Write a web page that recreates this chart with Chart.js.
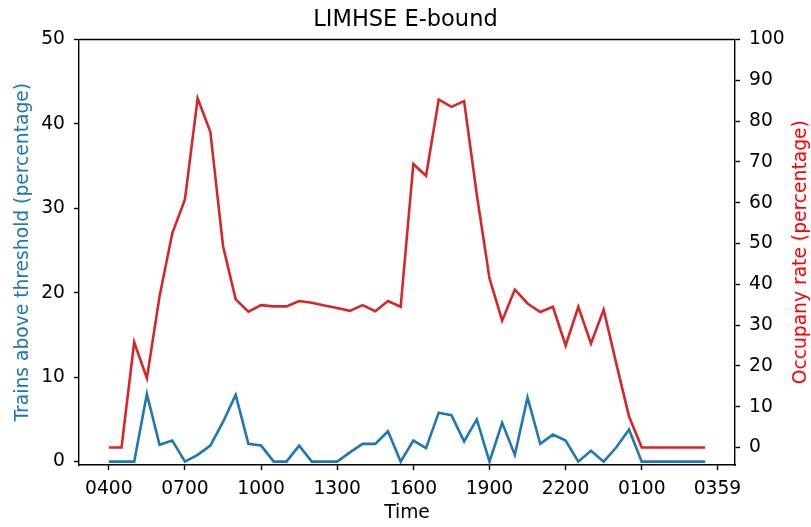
<!DOCTYPE html>
<html>
<head>
<meta charset="utf-8">
<script src="https://cdn.jsdelivr.net/npm/chart.js@4.4.1/dist/chart.umd.min.js"></script>
<style>
  html, body { margin: 0; padding: 0; background: #fff; }
  #wrap { width: 811px; height: 527px; position: relative; }
</style>
</head>
<body>
<div id="wrap"><canvas id="occChart"></canvas></div>
<script>
// half-hour slots, day starts at 0400
var times = ['0400','0430','0500','0530','0600','0630','0700','0730','0800','0830',
             '0900','0930','1000','1030','1100','1130','1200','1230','1300','1330',
             '1400','1430','1500','1530','1600','1630','1700','1730','1800','1830',
             '1900','1930','2000','2030','2100','2130','2200','2230','2300','2330',
             '0000','0030','0100','0130','0200','0230','0300','0330'];

// trains above threshold (%)
var aboveThreshold = [0, 0, 0, 8.0, 2.0, 2.5, 0, 0.8, 1.9, 4.7,
                      7.9, 2.1, 1.9, 0, 0, 1.9, 0, 0, 0, 1.1,
                      2.1, 2.1, 3.6, 0, 2.5, 1.6, 5.8, 5.5, 2.4, 5.0,
                      0, 4.6, 0.8, 7.6, 2.1, 3.2, 2.5, 0, 1.3, 0,
                      1.7, 3.8, 0, 0, 0, 0, 0, 0];

// occupancy rate (%)
var occupancy = [0, 0, 25.8, 17.0, 37.1, 52.5, 60.8, 85.6, 77.4, 49.4,
                 36.3, 33.3, 34.9, 34.6, 34.6, 35.9, 35.5, 34.8, 34.2, 33.5,
                 34.9, 33.4, 35.9, 34.5, 69.5, 66.6, 85.3, 83.5, 84.9, 62.0,
                 41.5, 31.1, 38.7, 35.3, 33.2, 34.5, 25.0, 34.5, 25.5, 33.8,
                 20.5, 7.6, 0, 0, 0, 0, 0, 0];

var xTickLabels = ['0400','0700','1000','1300','1600','1900','2200','0100','0359'];
var leftTicks = [0, 10, 20, 30, 40, 50];
var rightTicks = [0, 10, 20, 30, 40, 50, 60, 70, 80, 90, 100];

// position of an hhmm label in half-hour slots after 0400
function slot(label) {
  var h = parseInt(label.slice(0, 2), 10);
  var m = parseInt(label.slice(2), 10);
  return (((h - 4 + 24) % 24) * 60 + m) / 30;
}

function toPoints(values) {
  return values.map(function (v, i) { return { x: slot(times[i]), y: v }; });
}

var FONT = 'DejaVu Sans';
Chart.defaults.font.family = FONT;
Chart.defaults.font.size = 18.7;
Chart.defaults.color = '#000';

var lastSlot = slot(times[times.length - 1]);
var xMargin = lastSlot * 0.05;

function fixedTicks(list) {
  return function (scale) {
    scale.ticks = list.map(function (v) { return { value: v }; });
  };
}

var axisStyle = {
  border: { display: true, color: '#000', width: 1.4 },
  grid: { drawOnChartArea: false, drawTicks: true, tickLength: 5, tickColor: '#000', tickWidth: 1.4 }
};

// top spine + right-hand title (reads bottom to top)
var frame = {
  id: 'frame',
  afterDraw: function (chart) {
    var a = chart.chartArea, ctx = chart.ctx;
    ctx.save();
    ctx.strokeStyle = '#000';
    ctx.lineWidth = 1.4;
    ctx.beginPath();
    ctx.moveTo(a.left, a.top);
    ctx.lineTo(a.right, a.top);
    ctx.stroke();
    ctx.translate(801, (a.top + a.bottom) / 2);
    ctx.rotate(-Math.PI / 2);
    ctx.fillStyle = '#ff0000';
    ctx.font = '18.7px "' + FONT + '"';
    ctx.textAlign = 'center';
    ctx.textBaseline = 'middle';
    ctx.fillText('Occupany rate (percentage)', 0, 0);
    ctx.restore();
  }
};

new Chart(document.getElementById('occChart'), {
  type: 'line',
  data: {
    datasets: [
      {
        label: 'Trains above threshold',
        data: toPoints(aboveThreshold),
        yAxisID: 'y',
        borderColor: '#1f77b4',
        borderWidth: 2.6,
        pointRadius: 0,
        tension: 0
      },
      {
        label: 'Occupany rate',
        data: toPoints(occupancy),
        yAxisID: 'y2',
        borderColor: '#d62728',
        borderWidth: 2.6,
        pointRadius: 0,
        tension: 0
      }
    ]
  },
  options: {
    responsive: true,
    maintainAspectRatio: false,
    animation: false,
    layout: { padding: 0 },
    plugins: {
      legend: { display: false },
      tooltip: { enabled: false },
      title: {
        display: true,
        text: 'LIMHSE E-bound',
        font: { size: 22.5, weight: 'normal' },
        color: '#000',
        padding: { top: 6.2, bottom: 6.3 }
      }
    },
    scales: {
      x: Object.assign({
        type: 'linear',
        position: 'bottom',
        min: -xMargin,
        max: lastSlot + xMargin,
        afterBuildTicks: fixedTicks(xTickLabels.map(slot)),
        afterFit: function (s) { s.height = 62; },
        ticks: {
          padding: 8,
          maxRotation: 0,
          autoSkip: false,
          callback: function (v) {
            for (var i = 0; i < xTickLabels.length; i++) {
              if (Math.abs(slot(xTickLabels[i]) - v) < 1e-6) return xTickLabels[i];
            }
            return '';
          }
        },
        title: { display: true, text: 'Time', padding: { top: 0, bottom: 3 } }
      }, axisStyle),
      y: Object.assign({
        position: 'left',
        min: -0.4,
        max: 50,
        afterBuildTicks: fixedTicks(leftTicks),
        afterFit: function (s) { s.width = 79; },
        ticks: { padding: 9 },
        title: {
          display: true,
          text: 'Trains above threshold (percentage)',
          color: '#1f77b4',
          padding: { top: 12, bottom: 0 }
        }
      }, axisStyle),
      y2: Object.assign({
        position: 'right',
        min: -4.28,
        max: 100,
        afterBuildTicks: fixedTicks(rightTicks),
        afterFit: function (s) { s.width = 76; },
        ticks: { padding: 9 }
      }, axisStyle)
    }
  },
  plugins: [frame]
});
</script>
</body>
</html>
